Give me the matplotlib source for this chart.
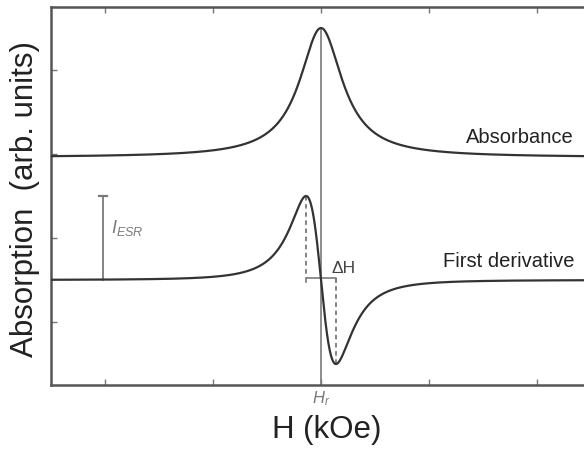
import matplotlib
matplotlib.use("Agg")
import matplotlib.pyplot as plt
import numpy as np

plt.rcParams["font.family"] = ["Liberation Sans", "DejaVu Sans"]
plt.rcParams["mathtext.fontset"] = "custom"
plt.rcParams["mathtext.it"] = "Liberation Sans:italic"
plt.rcParams["mathtext.rm"] = "Liberation Sans"

# Line-shape parameters (field axis in arbitrary units)
H_RES = 5.0          # resonance field Hr
HALF_WIDTH = 0.48    # Lorentzian half width
ABS_BASE = 2.71      # absorbance baseline
ABS_AMP = 1.54       # absorbance peak height
DER_BASE = 1.25      # first-derivative baseline
DER_AMP = 1.0        # derivative peak amplitude

X_TICKS = [1, 3, 5, 7, 9]
Y_TICKS = [0.75, 1.75, 2.75, 3.75]

CURVE = "#333333"
GREY = "#7a7a7a"

h = np.linspace(0, 10, 2000)
u = (h - H_RES) / HALF_WIDTH
absorb = ABS_BASE + ABS_AMP / (1 + u**2)
deriv_raw = -2 * u / (1 + u**2) ** 2
deriv = DER_BASE + DER_AMP * deriv_raw / np.abs(deriv_raw).max()

fig = plt.figure(figsize=(5.84, 4.51), dpi=100)
ax = fig.add_axes([51 / 584, 1 - 385 / 451, 540 / 584, 378 / 451])

ax.plot(h, absorb, color=CURVE, lw=1.6, zorder=3)
ax.plot(h, deriv, color=CURVE, lw=1.6, zorder=3)

# resonance marker
ax.plot([H_RES, H_RES], [0, ABS_BASE + ABS_AMP], color=GREY, lw=1.2, zorder=2)

# peak-to-peak width
h_lo = H_RES - HALF_WIDTH / np.sqrt(3)
h_hi = H_RES + HALF_WIDTH / np.sqrt(3)
y_br = DER_BASE + 0.025
ax.plot([h_lo, h_lo], [DER_BASE + DER_AMP, y_br], color=GREY, lw=1.3,
        ls=(0, (2.5, 2)), zorder=2)
ax.plot([h_hi, h_hi], [y_br, DER_BASE - DER_AMP], color=GREY, lw=1.3,
        ls=(0, (2.5, 2)), zorder=2)
ax.plot([h_lo, h_lo, h_hi, h_hi], [y_br - 0.05, y_br, y_br, y_br - 0.05],
        color=GREY, lw=1.2, zorder=2)
ax.text(5.2, 1.39, "ΔH", fontsize=12.5, color="#444444", ha="left", va="center")

# intensity bar
ax.plot([0.96, 0.96], [DER_BASE, DER_BASE + DER_AMP], color=GREY, lw=1.3)
ax.plot([0.89, 1.03], [DER_BASE + DER_AMP] * 2, color=GREY, lw=1.6)
ax.text(1.12, 1.87, r"$I_{ESR}$", fontsize=13, color=GREY, ha="left", va="center")

ax.text(9.68, 2.95, "Absorbance", fontsize=14.5, color="#222222",
        ha="right", va="center")
ax.text(9.70, 1.47, "First derivative", fontsize=14.5, color="#222222",
        ha="right", va="center")

ax.text(H_RES, -0.16, r"$H_r$", fontsize=12, color=GREY, ha="center",
        va="center", clip_on=False)

ax.set_xlim(0, 10)
ax.set_ylim(0, 4.5)
ax.set_xticks(X_TICKS)
ax.set_yticks(Y_TICKS)
ax.set_xticklabels([])
ax.set_yticklabels([])
ax.tick_params(direction="in", length=4, width=1, color="#777777",
               top=True, right=True)
for sp in ax.spines.values():
    sp.set_color("#555555")
    sp.set_linewidth(1.8)

fig.text(25 / 584, 1 - 199 / 451, "Absorption  (arb. units)", fontsize=22.5,
         rotation=90, ha="center", va="center", color="#222222")
fig.text(327 / 584, 1 - 430 / 451, "H (kOe)", fontsize=22.5,
         ha="center", va="center", color="#222222")

fig.savefig("out.png", dpi=100)
